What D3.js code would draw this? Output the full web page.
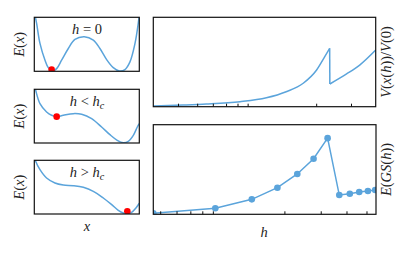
<!DOCTYPE html>
<html>
<head>
<meta charset="utf-8">
<script src="https://cdn.jsdelivr.net/npm/d3@7"></script>
<style>
body { margin: 0; background: #fff; }
text { font-family: "Liberation Serif", "DejaVu Serif", serif; fill: #222; }
</style>
</head>
<body>
<svg id="chart" width="411" height="254"></svg>
<script>
const BLUE = "#5ba4db";
const FS = 14.5;

// potential panels: position and energy as fractions of the box
const wellX1 = [0.0, 0.022, 0.054, 0.102, 0.133, 0.175, 0.213, 0.26, 0.324, 0.387, 0.476, 0.562, 0.625, 0.689, 0.752, 0.81, 0.863, 0.911, 0.959, 0.99, 1.0];
const wellE1 = [1.1, 0.888, 0.516, 0.205, 0.068, 0.006, 0.05, 0.205, 0.422, 0.59, 0.64, 0.578, 0.422, 0.217, 0.068, 0.006, 0.031, 0.174, 0.516, 0.888, 1.05];
const wellX2 = [0.0, 0.013, 0.054, 0.117, 0.165, 0.213, 0.276, 0.371, 0.451, 0.546, 0.641, 0.72, 0.79, 0.848, 0.895, 0.943, 0.981, 1.0];
const wellE2 = [1.08, 0.981, 0.733, 0.578, 0.516, 0.491, 0.516, 0.547, 0.534, 0.453, 0.298, 0.155, 0.05, 0.006, 0.031, 0.143, 0.298, 0.36];
const wellX3 = [0.0, 0.013, 0.054, 0.117, 0.197, 0.276, 0.371, 0.467, 0.562, 0.657, 0.737, 0.8, 0.848, 0.886, 0.927, 0.968, 1.0];
const wellE3 = [1.08, 0.981, 0.826, 0.671, 0.578, 0.54, 0.528, 0.497, 0.422, 0.298, 0.174, 0.068, 0.019, 0.006, 0.031, 0.112, 0.2];
const ballX = [0.165, 0.213, 0.886];
const ballE = [0.031, 0.491, 0.05];

// V(x(h))/V(0) against h, two branches either side of the jump
const hTopA = [3.0, 4.24, 5.56, 8.23, 11.2, 14.1, 17.2, 20.1, 22.1, 23.4];
const vTopA = [0.008, 0.019, 0.03, 0.056, 0.1, 0.168, 0.262, 0.41, 0.559, 0.653];
const hTopB = [23.45, 28.5, 33.2, 40];
const vTopB = [0.254, 0.366, 0.466, 0.634];
const topTicks = [4, 5, 6, 7, 8, 9, 20, 30];

// E(GS(h)) against h
const hGS = [4.63, 9.25, 13.9, 18.5, 23.1, 27.7, 32.4, 36.9, 41.5, 46.1, 50.8, 55.1];
const eGS = [0.011, 0.067, 0.167, 0.297, 0.45, 0.62, 0.85, 0.215, 0.23, 0.249, 0.26, 0.271];
const botTicks = [5, 6, 7, 8, 9, 20, 30, 40, 50];

const svg = d3.select("#chart");

function box(id, x0, y0, x1, y1) {
    svg.append("clipPath").attr("id", id)
        .append("rect").attr("x", x0).attr("y", y0)
        .attr("width", x1 - x0).attr("height", y1 - y0);
    return svg.append("g").attr("clip-path", "url(#" + id + ")");
}
function frame(x0, y0, x1, y1) {
    svg.append("rect")
        .attr("x", x0).attr("y", y0)
        .attr("width", x1 - x0).attr("height", y1 - y0)
        .attr("fill", "none").attr("stroke", "#111").attr("stroke-width", 1.2);
}
// italic math text from pieces
function mathText(x, y, parts, size, rotate) {
    const t = svg.append("text")
        .attr("text-anchor", "middle")
        .style("font-size", size + "px");
    if (rotate) t.attr("transform", "translate(" + x + "," + y + ") rotate(-90)");
    else t.attr("x", x).attr("y", y);
    parts.forEach(p => {
        const s = t.append("tspan").text(p.t)
            .style("font-style", p.i ? "italic" : "normal");
        if (p.sub) s.attr("baseline-shift", "-25%").style("font-size", (size * 0.7) + "px");
    });
    return t;
}

// ---- left column: three potentials
const leftX0 = 34.3, leftX1 = 139.3;
const rows = [[17.3, 71.3], [89.3, 143], [160.3, 214]];
const wells = [[wellX1, wellE1], [wellX2, wellE2], [wellX3, wellE3]];
const titles = [
    [{ t: "h", i: true }, { t: " = 0" }],
    [{ t: "h", i: true }, { t: " < " }, { t: "h", i: true }, { t: "c", i: true, sub: true }],
    [{ t: "h", i: true }, { t: " > " }, { t: "h", i: true }, { t: "c", i: true, sub: true }]
];

rows.forEach((r, k) => {
    const x = d3.scaleLinear().domain([0, 1]).range([leftX0, leftX1]);
    const y = d3.scaleLinear().domain([0, 1]).range([r[1], r[0]]);
    const g = box("wclip" + k, leftX0, r[0], leftX1, r[1]);
    const pts = d3.zip(wells[k][0], wells[k][1]);
    g.append("path")
        .attr("d", d3.line().x(d => x(d[0])).y(d => y(d[1])).curve(d3.curveCatmullRom)(pts))
        .attr("fill", "none").attr("stroke", BLUE).attr("stroke-width", 1.5);
    g.append("circle")
        .attr("cx", x(ballX[k])).attr("cy", y(ballE[k]))
        .attr("r", 3.3).attr("fill", "#ff0000");
    frame(leftX0, r[0], leftX1, r[1]);
    mathText(87, r[0] + 17, titles[k], FS);
    mathText(24, (r[0] + r[1]) / 2, [{ t: "E", i: true }, { t: "(" }, { t: "x", i: true }, { t: ")" }], FS, true);
});
mathText(87, 231, [{ t: "x", i: true }], FS);

// ---- top right: V(x(h))/V(0)
const tX0 = 153.3, tX1 = 375.7, tY0 = 17.3, tY1 = 106.7;
const xTop = d3.scaleLog().domain([3, 40]).range([tX0, tX1]);
const yTop = d3.scaleLinear().domain([0, 1]).range([tY1, tY0]);
const gTop = box("tclip", tX0, tY0, tX1, tY1);
const lineTop = d3.line().x(d => xTop(d[0])).y(d => yTop(d[1]));
gTop.append("path")
    .attr("d", lineTop.curve(d3.curveMonotoneX)(d3.zip(hTopA, vTopA)))
    .attr("fill", "none").attr("stroke", BLUE).attr("stroke-width", 1.5);
gTop.append("path")
    .attr("d", lineTop.curve(d3.curveMonotoneX)(d3.zip(hTopB, vTopB)))
    .attr("fill", "none").attr("stroke", BLUE).attr("stroke-width", 1.5);
gTop.append("path")
    .attr("d", lineTop.curve(d3.curveLinear)([[hTopA[hTopA.length - 1], vTopA[vTopA.length - 1]], [hTopB[0], vTopB[0]]]))
    .attr("fill", "none").attr("stroke", BLUE).attr("stroke-width", 1.5);
svg.append("g")
    .attr("transform", "translate(0," + tY1 + ")")
    .call(d3.axisBottom(xTop).tickValues(topTicks).tickSize(-3).tickFormat(""))
    .call(a => a.select(".domain").remove())
    .call(a => a.selectAll("line").attr("stroke", "#111").attr("stroke-width", 1));
frame(tX0, tY0, tX1, tY1);
mathText(391, (tY0 + tY1) / 2,
    [{ t: "V", i: true }, { t: "(" }, { t: "x", i: true }, { t: "(" }, { t: "h", i: true }, { t: "))/" },
     { t: "V", i: true }, { t: "(0)" }], FS, true);

// ---- bottom right: E(GS(h))
const bX0 = 153.3, bX1 = 376, bY0 = 124.7, bY1 = 214.3;
const xBot = d3.scaleLog().domain([4.63, 55.6]).range([bX0, bX1]);
const yBot = d3.scaleLinear().domain([0, 1]).range([bY1, bY0]);
const gBot = box("bclip", bX0, bY0, bX1, bY1);
const gsPts = d3.zip(hGS, eGS);
gBot.append("path")
    .attr("d", d3.line().x(d => xBot(d[0])).y(d => yBot(d[1]))(gsPts))
    .attr("fill", "none").attr("stroke", BLUE).attr("stroke-width", 1.5);
gBot.selectAll("circle").data(gsPts).join("circle")
    .attr("cx", d => xBot(d[0])).attr("cy", d => yBot(d[1]))
    .attr("r", 3.3).attr("fill", BLUE);
svg.append("g")
    .attr("transform", "translate(0," + bY1 + ")")
    .call(d3.axisBottom(xBot).tickValues(botTicks).tickSize(-3).tickFormat(""))
    .call(a => a.select(".domain").remove())
    .call(a => a.selectAll("line").attr("stroke", "#111").attr("stroke-width", 1));
frame(bX0, bY0, bX1, bY1);
mathText(391, (bY0 + bY1) / 2,
    [{ t: "E", i: true }, { t: "(" }, { t: "GS", i: true }, { t: "(" }, { t: "h", i: true }, { t: "))" }], FS, true);
mathText(264, 237, [{ t: "h", i: true }], FS);
</script>
</body>
</html>
